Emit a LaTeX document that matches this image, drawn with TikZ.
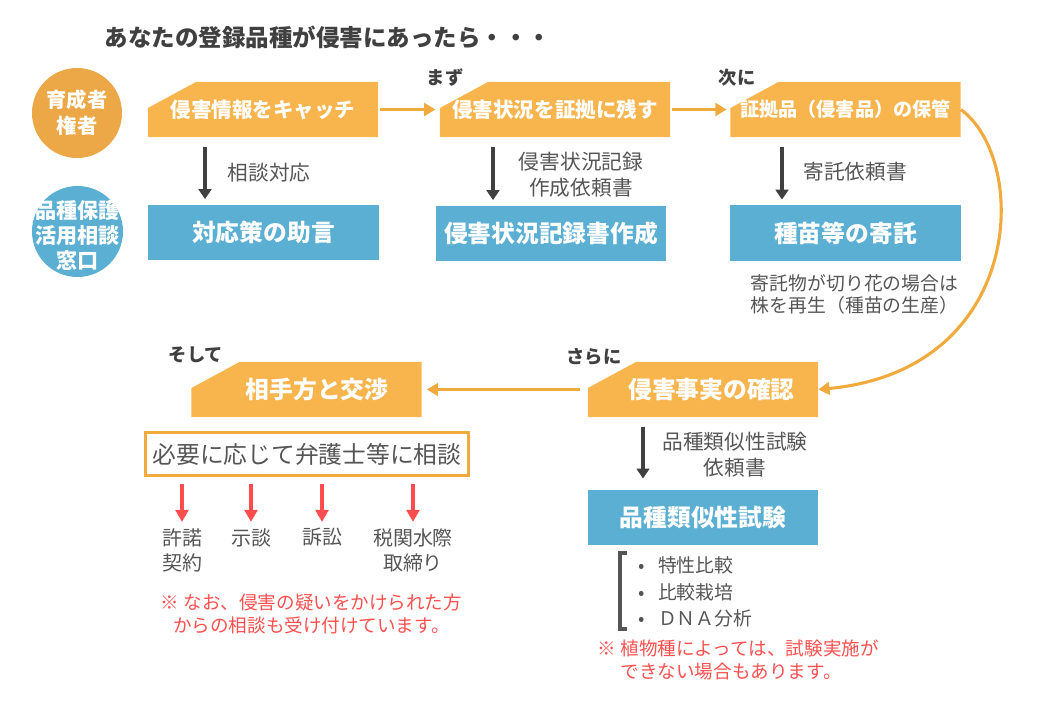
\documentclass[tikz,border=0pt]{standalone}
\usepackage{fontspec}
\setmainfont{Noto Sans CJK JP}
\usepackage{tikz}
\usetikzlibrary{arrows.meta,positioning,calc}

\definecolor{boxorange}{RGB}{248,181,78}
\definecolor{circorange}{RGB}{236,168,70}
\definecolor{lineorange}{RGB}{240,170,62}
\definecolor{boxblue}{RGB}{91,175,211}
\definecolor{inkgray}{RGB}{64,64,64}
\definecolor{labelgray}{RGB}{85,85,85}
\definecolor{redarrow}{RGB}{255,77,77}
\definecolor{redtext}{RGB}{255,80,80}

\newcommand{\fsz}[2]{\fontsize{#1}{#2}\selectfont}

\begin{document}
\begin{tikzpicture}[
    x=0.025cm, y=-0.025cm,
    flagbox/.style={
        rectangle,
        fill=white,
        inner sep=0pt,
        minimum width=5.75cm,
        minimum height=1.375cm,
        text=white,
        font=\fsz{14.6pt}{18pt}\bfseries,
        path picture={
            \fill[boxorange] ($(path picture bounding box.north west)+(48,0)$)
                -- (path picture bounding box.north east)
                -- (path picture bounding box.south east)
                -- (path picture bounding box.south west)
                -- ($(path picture bounding box.north west)+(0,26)$) -- cycle;
        }
    },
    bluebox/.style={
        rectangle,
        fill=boxblue,
        inner sep=0pt,
        minimum width=5.75cm,
        minimum height=1.375cm,
        text=white,
        font=\fsz{16.9pt}{20pt}\bfseries
    },
    rolecirc/.style={
        circle,
        inner sep=0pt,
        minimum size=2.25cm
    },
    roletext/.style={
        inner sep=0pt,
        align=center,
        text=white,
        font=\fsz{14.4pt}{18.5pt}\bfseries
    },
    stepword/.style={
        text=inkgray,
        font=\fsz{13pt}{16pt}\bfseries
    },
    note/.style={
        align=center,
        text=labelgray,
        font=\fsz{14.7pt}{18.5pt}
    },
    outcome/.style={
        anchor=north,
        inner sep=0pt,
        align=center,
        text=labelgray,
        font=\fsz{14.2pt}{17.8pt}
    },
    warn/.style={
        align=center,
        text=redtext,
        font=\fsz{13.2pt}{16pt}
    },
    darrow/.style={
        -{Triangle[width=9pt,length=7pt]},
        line width=2.4pt,
        draw=inkgray
    },
    oarrow/.style={
        -{Triangle[width=9pt,length=8pt]},
        line width=2.4pt,
        draw=lineorange
    },
    rarrow/.style={
        -{Triangle[width=9pt,length=8.5pt]},
        line width=2.6pt,
        draw=redarrow
    }
]
\useasboundingbox (0,0) rectangle (1040,720);

\node[anchor=west, text=inkgray, font=\fsz{16.7pt}{20pt}\bfseries] (title) at (100,37) {あなたの登録品種が侵害にあったら・・・};

% who acts
\node[rolecirc, fill=circorange, label={[roletext]center:育成者\\権者}] (breeder) at (77,113) {};
\node[rolecirc, fill=boxblue, minimum size=2.275cm,
      label={[roletext, yshift=-3pt, font=\fsz{15pt}{17.8pt}\bfseries]center:品種保護\\活用相談\\窓口}] (desk) at (77.5,231.5) {};

% top row
\node[flagbox] (catch) at (263,109.5) {侵害情報をキャッチ};
\node[flagbox] (evidence) at (555,109.5) {侵害状況を証拠に残す};
\node[flagbox, font=\fsz{13.6pt}{17pt}\bfseries] (keep) at (845.5,109.5) {証拠品（侵害品）の保管};

\node[stepword] (first) at (445,78) {まず};
\node[stepword] (next) at (737,78) {次に};

\node[bluebox] (advice) at (263.5,232.5) {対応策の助言};
\node[bluebox] (record) at (551,233.5) {侵害状況記録書作成};
\node[bluebox] (deposit) at (845.5,233) {種苗等の寄託};

\node[note] (consult) at (269,173) {相談対応};
\node[note] (recreq) at (581,175) {侵害状況記録\\作成依頼書};
\node[note] (depreq) at (855,172) {寄託依頼書};
\node[note, anchor=west, align=left, font=\fsz{13.4pt}{15.6pt}] (cutnote) at (746,294) {寄託物が切り花の場合は\\株を再生（種苗の生産）};

% lower row
\node[flagbox, font=\fsz{16.9pt}{20pt}\bfseries] (confirm) at (703,389.5) {\hspace*{12pt}侵害事実の確認};
\node[flagbox, font=\fsz{16.9pt}{20pt}\bfseries] (nego) at (306.5,389.5) {\hspace*{15pt}相手方と交渉};

\node[stepword] (further) at (594,357) {さらに};
\node[stepword] (finally) at (196,355) {そして};

\node[note] (simreq) at (735,455) {品種類似性試験\\依頼書};
\node[bluebox] (similarity) at (703,517.5) {品種類似性試験};

\node[draw=lineorange, line width=2.1pt, fill=white, inner sep=0pt,
      minimum width=8.075cm, minimum height=1.075cm,
      text=labelgray, font=\fsz{16.9pt}{20pt}] (lawyer) at (307,454) {必要に応じて弁護士等に相談};

\node[outcome] (license) at (182,528) {許諾\\契約};
\node[outcome] (settle) at (251,528) {示談};
\node[outcome] (suit) at (322,528) {訴訟};
\node[outcome] (customs) at (413,528) {税関水際\\取締り};

\node[anchor=west, align=left, text=labelgray, font=\fsz{13.4pt}{18.9pt}] (tests) at (634,592) {•\hspace{9pt}特性比較\\•\hspace{9pt}比較栽培\\•\hspace{9pt}ＤＮＡ分析};

\node[warn] (notice1) at (311.5,614) {※ なお、侵害の疑いをかけられた方\\からの相談も受け付けています。};
\node[warn, anchor=west, align=left] (notice2) at (593,660) {※ 植物種によっては、試験実施が\\\phantom{※ }できない場合もあります。};

% lanes for the down arrows
\coordinate (lane1) at (205,0);
\coordinate (lane2) at (493,0);
\coordinate (lane3) at (782,0);
\coordinate (lane4) at (643,0);

\draw[oarrow, shorten <=1.4pt, shorten >=3pt] (catch) -- (evidence);
\draw[oarrow, shorten <=1.4pt, shorten >=2.5pt] (evidence) -- (keep);
\draw[oarrow, line width=2.2pt] (keep.east) .. controls (1030,160) and (1025,370) .. (confirm.east);
\draw[oarrow, shorten <=5.7pt, shorten >=3.5pt] (confirm) -- (nego);

\draw[darrow, shorten <=7pt, shorten >=4pt] (catch.south -| lane1) -- (advice.north -| lane1);
\draw[darrow, shorten <=7pt, shorten >=4pt] (evidence.south -| lane2) -- (record.north -| lane2);
\draw[darrow, shorten <=7pt, shorten >=4pt] (keep.south -| lane3) -- (deposit.north -| lane3);
\draw[darrow, shorten <=7pt, shorten >=8pt] (confirm.south -| lane4) -- (similarity.north -| lane4);

\foreach \o in {license,settle,suit,customs}
    \draw[rarrow, shorten <=5pt, shorten >=4.3pt] (lawyer.south -| \o.north) -- (\o.north);

% bracket beside the test list
\draw[line width=2.2pt, draw=labelgray] (627,553) -- (620,553) -- (620,629) -- (627,629);

\end{tikzpicture}
\end{document}
